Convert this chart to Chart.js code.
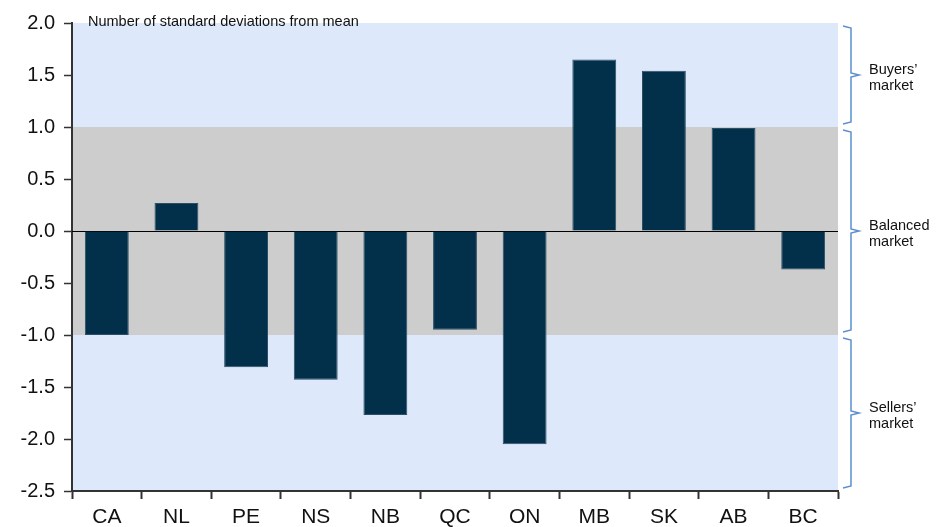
<!DOCTYPE html>
<html>
<head>
<meta charset="utf-8">
<script src="https://cdn.jsdelivr.net/npm/chart.js@4"></script>
<style>
  html, body { margin: 0; padding: 0; background: #fff; }
  #wrap { width: 947px; height: 527px; }
</style>
</head>
<body>
<div id="wrap"><canvas id="barchart"></canvas></div>
<script>
const provinces = ["CA", "NL", "PE", "NS", "NB", "QC", "ON", "MB", "SK", "AB", "BC"];
const stdDevs = [-1.0, 0.27, -1.31, -1.43, -1.77, -0.95, -2.05, 1.65, 1.54, 0.99, -0.37];
const yTicks = [-2.5, -2.0, -1.5, -1.0, -0.5, 0.0, 0.5, 1.0, 1.5, 2.0];
const marketBands = [
  { from: 2.0, to: 1.0, label: ["Buyers’", "market"], color: '#dde9fa' },
  { from: 1.0, to: -1.0, label: ["Balanced", "market"], color: '#cdcdcd' },
  { from: -1.0, to: -2.5, label: ["Sellers’", "market"], color: '#dde9fa' }
];

// shaded bands + zero line
const bandsPlugin = {
  id: 'bands',
  beforeDraw(chart) {
    const { ctx, chartArea, scales } = chart;
    ctx.save();
    marketBands.forEach(b => {
      const y1 = scales.y.getPixelForValue(b.from);
      const y2 = scales.y.getPixelForValue(b.to);
      ctx.fillStyle = b.color;
      ctx.fillRect(chartArea.left, y1, chartArea.right - chartArea.left, y2 - y1);
    });
    ctx.restore();
  },
  beforeDatasetsDraw(chart) {
    const { ctx, chartArea, scales } = chart;
    const y0 = Math.round(scales.y.getPixelForValue(0)) + 0.5;
    ctx.save();
    ctx.strokeStyle = '#000';
    ctx.lineWidth = 1;
    ctx.beginPath();
    ctx.moveTo(chartArea.left, y0);
    ctx.lineTo(chartArea.right, y0);
    ctx.stroke();
    ctx.restore();
  },
  afterDraw(chart) {
    const { ctx, chartArea, scales } = chart;
    ctx.save();
    // title inside the plot
    ctx.fillStyle = '#111';
    ctx.font = '14.5px "Liberation Sans", Arial, sans-serif';
    ctx.textBaseline = 'middle';
    ctx.textAlign = 'left';
    ctx.fillText('Number of standard deviations from mean', chartArea.left + 16, chartArea.top - 1);

    // braces on the right
    const xv = chartArea.right + 13;
    marketBands.forEach(b => {
      const y1 = scales.y.getPixelForValue(b.from) + 3;
      const y2 = scales.y.getPixelForValue(b.to) - 3;
      const ym = (y1 + y2) / 2;
      ctx.strokeStyle = '#5b8fd1';
      ctx.lineWidth = 1.5;
      ctx.beginPath();
      ctx.moveTo(xv - 8, y1);
      ctx.lineTo(xv, y1 + 2);
      ctx.lineTo(xv, ym - 2);
      ctx.lineTo(xv + 8, ym);
      ctx.lineTo(xv, ym + 2);
      ctx.lineTo(xv, y2 - 2);
      ctx.lineTo(xv - 8, y2);
      ctx.stroke();
      ctx.fillStyle = '#111';
      ctx.font = '14.5px "Liberation Sans", Arial, sans-serif';
      ctx.textAlign = 'left';
      ctx.fillText(b.label[0], xv + 18, ym - 5);
      ctx.fillText(b.label[1], xv + 18, ym + 11);
    });
    ctx.restore();
  }
};

const ctx = document.getElementById('barchart').getContext('2d');
const barchart = new Chart(ctx, {
  type: 'bar',
  data: {
    labels: provinces,
    datasets: [{
      data: stdDevs,
      backgroundColor: '#02304b',
      borderColor: '#2d4f66',
      borderWidth: 1,
      barPercentage: 0.63,
      categoryPercentage: 1.0
    }]
  },
  options: {
    responsive: true,
    maintainAspectRatio: false,
    animation: false,
    layout: { padding: { top: 23, right: 109, left: 0, bottom: 0 } },
    plugins: { legend: { display: false }, tooltip: { enabled: false } },
    scales: {
      x: {
        offset: true,
        afterFit(scale) { scale.height = 36; },
        grid: { drawOnChartArea: false, offset: true, tickLength: 8, tickColor: '#333', tickWidth: 2 },
        border: { color: '#333', width: 2 },
        ticks: { color: '#111', padding: 6, font: { size: 21, family: '"Liberation Sans", Arial, sans-serif' } }
      },
      y: {
        min: -2.5,
        max: 2.0,
        afterBuildTicks(scale) { scale.ticks = yTicks.map(v => ({ value: v })); },
        afterFit(scale) { scale.width = 72; },
        grid: { drawOnChartArea: false, tickLength: 8, tickColor: '#333', tickWidth: 1.5 },
        border: { color: '#333', width: 2 },
        ticks: {
          color: '#111', padding: 9,
          font: { size: 20, family: '"Liberation Sans", Arial, sans-serif' },
          callback: v => Number(v).toFixed(1)
        }
      }
    }
  },
  plugins: [bandsPlugin]
});
</script>
</body>
</html>
